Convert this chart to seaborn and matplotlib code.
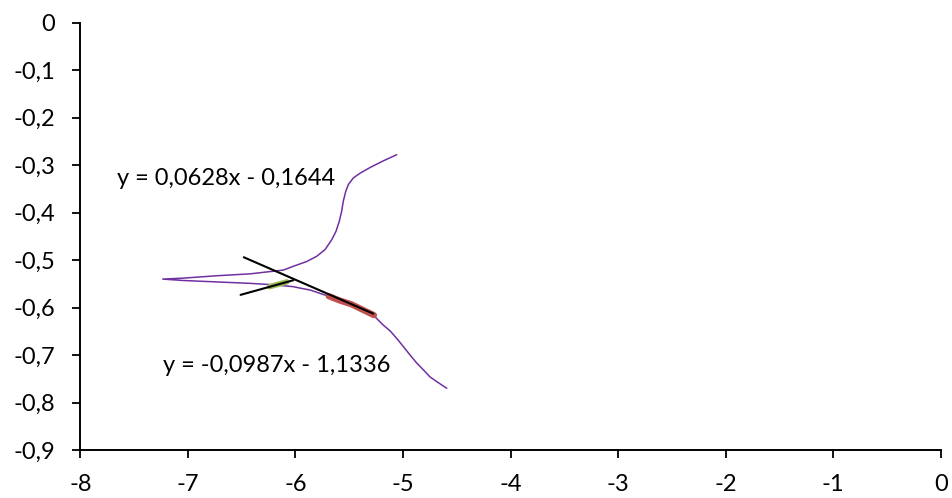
import numpy as np
import pandas as pd
import matplotlib
matplotlib.use("Agg")
import matplotlib.pyplot as plt
from matplotlib.ticker import FuncFormatter
import seaborn as sns

# Main curve: upper branch from the right end going left, then lower branch back to the right
curve_x = [-5.058, -5.183, -5.306, -5.399, -5.462, -5.508, -5.532, -5.555, -5.570,
           -5.592, -5.622, -5.662, -5.725, -5.802, -5.895, -6.019, -6.112, -6.267,
           -6.422, -6.732, -7.042, -7.234,
           -7.042, -6.732, -6.422, -6.205, -6.020, -5.957, -5.864, -5.694,
           -5.492, -5.276, -5.183, -5.120, -5.058, -4.997, -4.934, -4.872,
           -4.811, -4.749, -4.686, -4.593]
curve_y = [-0.278, -0.291, -0.305, -0.317, -0.327, -0.341, -0.355, -0.376, -0.397,
           -0.418, -0.439, -0.457, -0.478, -0.492, -0.503, -0.513, -0.521, -0.525,
           -0.529, -0.533, -0.538, -0.540,
           -0.543, -0.546, -0.549, -0.552, -0.556, -0.559, -0.563, -0.576,
           -0.592, -0.616, -0.637, -0.649, -0.665, -0.682, -0.700, -0.717,
           -0.731, -0.746, -0.756, -0.770]

# Points used for the two linear fits
green_x = [-6.24, -6.16, -6.08]
green_y = [-0.556, -0.551, -0.546]
red_x = [-5.69, -5.59, -5.48, -5.38, -5.27]
red_y = [-0.576, -0.585, -0.593, -0.604, -0.616]

# Linear fits: slope, intercept, x-range
fit1_coef = (0.0628, -0.1644)
fit1_range = (-6.51, -6.02)
fit2_coef = (-0.0987, -1.1336)
fit2_range = (-6.48, -5.276)

x_ticks = [-8, -7, -6, -5, -4, -3, -2, -1, 0]
y_ticks = [0, -0.1, -0.2, -0.3, -0.4, -0.5, -0.6, -0.7, -0.8, -0.9]

sns.set_style("ticks")
plt.rcParams["font.family"] = ["Lato", "DejaVu Sans"]
plt.rcParams["axes.unicode_minus"] = False

fig = plt.figure(figsize=(9.53, 4.98), dpi=100)
ax = fig.add_axes([0.0843, 0.0964, 0.9028, 0.858])

curve = pd.DataFrame({"x": curve_x, "y": curve_y})
sns.lineplot(data=curve, x="x", y="y", sort=False, estimator=None,
             color="#7030A0", linewidth=1.1, ax=ax)

sns.lineplot(x=green_x, y=green_y, sort=False, estimator=None,
             color="#9BBB59", linewidth=4, ax=ax)
sns.lineplot(x=red_x, y=red_y, sort=False, estimator=None,
             color="#C0504D", linewidth=4.5, ax=ax)


def fit_line(coef, xr):
    xs = np.array(xr)
    return xs, coef[0] * xs + coef[1]


for coef, xr in [(fit1_coef, fit1_range), (fit2_coef, fit2_range)]:
    fx, fy = fit_line(coef, xr)
    sns.lineplot(x=fx, y=fy, sort=False, estimator=None,
                 color="black", linewidth=1.5, ax=ax)


def eq_text(coef):
    m, b = coef
    sign = "-" if b < 0 else "+"
    return f"y = {m:.4f}x {sign} {abs(b):.4f}".replace(".", ",")


ax.text(-7.659, -0.342, eq_text(fit1_coef), fontsize=17, ha="left",
        va="baseline", color="black")
ax.text(-7.231, -0.735, eq_text(fit2_coef), fontsize=17, ha="left",
        va="baseline", color="black")

ax.set_xlim(-8, 0)
ax.set_ylim(-0.9, 0)
ax.set_xticks(x_ticks)
ax.set_yticks(y_ticks)
ax.xaxis.set_major_formatter(FuncFormatter(lambda v, p: f"{v:g}"))
ax.yaxis.set_major_formatter(
    FuncFormatter(lambda v, p: "0" if abs(v) < 1e-9 else f"{v:.1f}".replace(".", ",")))
ax.set_xlabel("")
ax.set_ylabel("")
ax.tick_params(axis="both", direction="out", length=6, width=1.3,
               color="black", labelsize=17, labelcolor="black")
ax.tick_params(axis="y", pad=12)
ax.tick_params(axis="x", pad=11)
for side in ["left", "bottom"]:
    ax.spines[side].set_linewidth(1.4)
    ax.spines[side].set_color("black")
sns.despine(ax=ax)

fig.savefig("out.png", dpi=100)
